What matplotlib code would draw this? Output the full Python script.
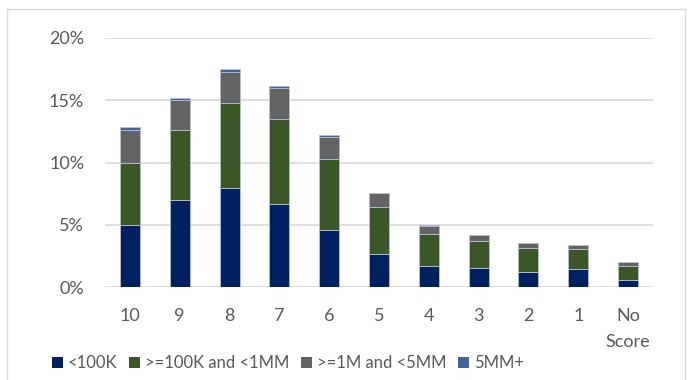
import matplotlib
matplotlib.use("Agg")
import matplotlib.pyplot as plt
from matplotlib.lines import Line2D
from matplotlib.patches import Patch
import numpy as np

categories = ["10", "9", "8", "7", "6", "5", "4", "3", "2", "1", "No\nScore"]
under_100k = [5.00, 6.98, 7.95, 6.66, 4.60, 2.65, 1.69, 1.53, 1.20, 1.44, 0.56]
k100_to_1mm = [5.00, 5.65, 6.82, 6.82, 5.67, 3.75, 2.56, 2.19, 1.93, 1.61, 1.13]
m1_to_5mm = [2.63, 2.35, 2.52, 2.47, 1.77, 1.12, 0.67, 0.45, 0.38, 0.32, 0.29]
mm5_plus = [0.20, 0.19, 0.18, 0.21, 0.13, 0.05, 0.03, 0.04, 0.03, 0.03, 0.03]

series_names = ["<100K", ">=100K and <1MM", ">=1M and <5MM", "5MM+"]
colors = ["#002060", "#3b5727", "#636363", "#44639a"]

plt.rcParams["font.family"] = ["Lato", "DejaVu Sans"]

W, H = 689, 380
fig = plt.figure(figsize=(W / 100, H / 100), dpi=100)
ax = fig.add_axes([105 / W, 1 - 287 / H, 548 / W, 249 / H])

x = np.arange(len(categories))
bottom = np.zeros(len(categories))
for vals, name, col in zip([under_100k, k100_to_1mm, m1_to_5mm, mm5_plus], series_names, colors):
    v = np.array(vals) / 100
    ax.bar(x, v, width=0.4, bottom=bottom, color=col, edgecolor="#b4c0d6",
           linewidth=0.6, label=name, zorder=3)
    bottom += v

ax.set_xlim(-0.5, len(categories) - 0.5)
ax.set_ylim(0, 0.2)
ax.set_yticks([0, 0.05, 0.10, 0.15, 0.20])
ax.set_yticklabels(["0%", "5%", "10%", "15%", "20%"])
ax.set_xticks(x)
ax.set_xticklabels(categories, linespacing=1.75)
ax.tick_params(axis="both", length=0, colors="#595959", labelsize=13)
ax.tick_params(axis="y", pad=15)
ax.tick_params(axis="x", pad=15)
ax.grid(axis="y", color="#d9d9d9", linewidth=1.2, zorder=0)
for s in ax.spines.values():
    s.set_visible(False)

handles = [Patch(facecolor=c, edgecolor="none") for c in colors]
fig.legend(handles, series_names, loc="center left", bbox_to_anchor=(37 / W, 1 - 363 / H),
           ncol=4, frameon=False, labelcolor="#595959",
           prop={"family": ["Lato", "DejaVu Sans"], "size": 12},
           handlelength=0.65, handleheight=0.65, handletextpad=0.3, columnspacing=0.7)

# chart area border
border = dict(color="#d9d9d9", linewidth=1.0, transform=fig.transFigure)
fig.add_artist(Line2D([7 / W, 7 / W], [0, 1 - 9 / H], **border))
fig.add_artist(Line2D([7 / W, 685 / W], [1 - 9 / H, 1 - 9 / H], **border))
fig.add_artist(Line2D([685 / W, 685 / W], [0, 1 - 9 / H], **border))

fig.savefig("out.png", dpi=100)
